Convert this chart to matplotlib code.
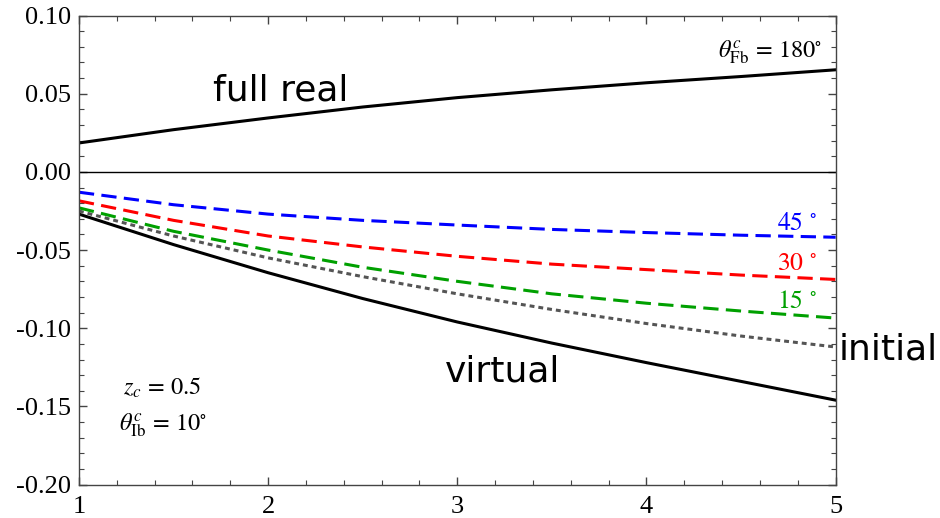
import numpy as np
import matplotlib.pyplot as plt

plt.rcParams['mathtext.fontset'] = 'stix'
plt.rcParams['axes.unicode_minus'] = False

# values
x = [1.0, 1.5, 2.0, 2.5, 3.0, 3.5, 4.0, 4.5, 5.0]
full_real = [0.0185, 0.027, 0.0345, 0.0415, 0.0475, 0.0525, 0.057, 0.061, 0.0653]
virtual = [-0.027, -0.0465, -0.0645, -0.081, -0.096, -0.1095, -0.122, -0.134, -0.146]
initial = [-0.025, -0.041, -0.055, -0.067, -0.078, -0.088, -0.097, -0.105, -0.112]
ang15 = [-0.023, -0.038, -0.050, -0.061, -0.070, -0.078, -0.084, -0.089, -0.0935]
ang30 = [-0.0185, -0.031, -0.041, -0.048, -0.054, -0.059, -0.0625, -0.066, -0.0688]
ang45 = [-0.013, -0.021, -0.027, -0.031, -0.034, -0.0368, -0.0388, -0.0405, -0.0418]

xticks = [1, 2, 3, 4, 5]
yticks = [-0.20, -0.15, -0.10, -0.05, 0.00, 0.05, 0.10]

fig = plt.figure(figsize=(9.4, 5.18), dpi=100)
ax = fig.add_axes([0.084, 0.0645, 0.805, 0.9055])

ax.axhline(0, color='black', lw=1)
ax.plot(x, full_real, color='black', lw=2.2)
ax.plot(x, virtual, color='black', lw=2.2)
ax.plot(x, initial, color='#555555', lw=2.2, dashes=(1.6, 1.3))
ax.plot(x, ang15, color='#00a000', lw=2.2, dashes=(5, 2.4))
ax.plot(x, ang30, color='#ff0000', lw=2.2, dashes=(5, 2.4))
ax.plot(x, ang45, color='#0000ff', lw=2.2, dashes=(5, 2.4))

ax.set_xlim(1, 5)
ax.set_ylim(-0.20, 0.10)
ax.set_xticks(xticks)
ax.set_xticklabels([str(t) for t in xticks])
ax.set_yticks(yticks)
ax.set_yticklabels(['%.2f' % t for t in yticks])
ax.set_xticks(np.arange(1, 5.01, 0.2), minor=True)
ax.set_yticks(np.arange(-0.20, 0.1001, 0.01), minor=True)
ax.tick_params(which='both', direction='in', top=True, right=True, color='#444444')
ax.tick_params(which='major', length=6, width=1)
ax.tick_params(which='minor', length=3.5, width=0.8)
ax.tick_params(axis='x', pad=8)
ax.tick_params(axis='y', pad=6)
for lab in ax.get_xticklabels() + ax.get_yticklabels():
    lab.set_fontfamily('Liberation Serif')
    lab.set_fontsize(19)
for s in ax.spines.values():
    s.set_color('#444444')
    s.set_linewidth(1)

sans = dict(family='DejaVu Sans', fontsize=26, va='baseline')
ax.text(1.708, 0.0454, 'full real', ha='left', **sans)
ax.text(2.934, -0.1341, 'virtual', ha='left', **sans)
ax.text(5.015, -0.1198, 'initial', ha='left', clip_on=False, **sans)

ax.text(4.90, -0.0371, r'$45\ ^{\circ}$', color='#0000ff', fontsize=18.5, ha='right', va='baseline')
ax.text(4.90, -0.0629, r'$30\ ^{\circ}$', color='#ff0000', fontsize=18.5, ha='right', va='baseline')
ax.text(4.90, -0.0872, r'$15\ ^{\circ}$', color='#00a000', fontsize=18.5, ha='right', va='baseline')

ax.text(4.926, 0.0732, r'$\theta^{c}_{\rm Fb}\,=\,180^{\circ}$', fontsize=17.5, ha='right', va='baseline')
ax.text(1.232, -0.1422, r'$z_c\,=\,0.5$', fontsize=17.5, ha='left', va='baseline')
ax.text(1.211, -0.1653, r'$\theta^{c}_{\rm Ib}\,=\,10^{\circ}$', fontsize=17.5, ha='left', va='baseline')

fig.savefig('out.png', dpi=100)
